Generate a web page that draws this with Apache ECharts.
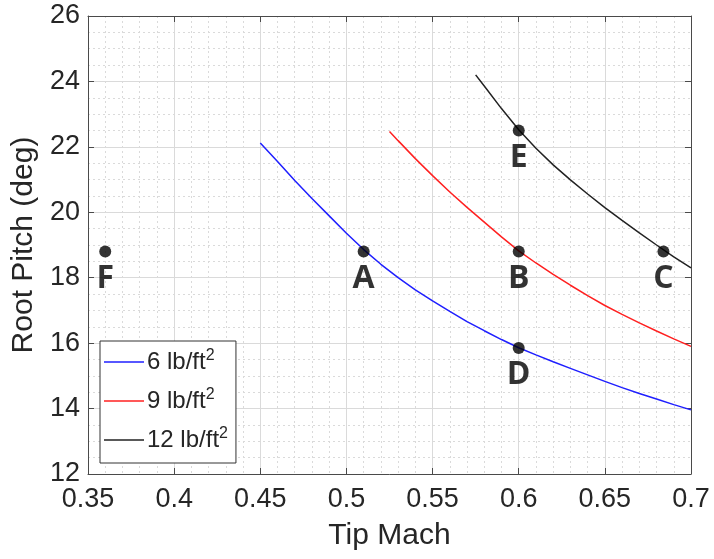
<!DOCTYPE html>
<html>
<head>
<meta charset="utf-8">
<script src="https://cdn.jsdelivr.net/npm/echarts@6/dist/echarts.min.js"></script>
<style>
  html, body { margin: 0; padding: 0; background: #fff; }
  #chart { width: 714px; height: 559px; }
</style>
</head>
<body>
<div id="chart"></div>
<script>
// ---- data ----
const seriesNames = ['6', '9', '12'];
const seriesColors = ['#1f1fff', '#ff2020', '#222222'];

const mach6  = [0.45, 0.46, 0.47, 0.48, 0.49, 0.50, 0.51, 0.52, 0.53, 0.54, 0.55, 0.56, 0.57, 0.58, 0.59, 0.60, 0.61, 0.62, 0.63, 0.64, 0.65, 0.66, 0.67, 0.68, 0.69, 0.70];
const pitch6 = [22.12, 21.55, 20.97, 20.42, 19.89, 19.36, 18.86, 18.41, 18.00, 17.63, 17.29, 16.97, 16.66, 16.38, 16.11, 15.86, 15.64, 15.43, 15.23, 15.03, 14.83, 14.64, 14.46, 14.29, 14.12, 13.96];

const mach9  = [0.525, 0.53, 0.54, 0.55, 0.56, 0.57, 0.58, 0.59, 0.60, 0.61, 0.62, 0.63, 0.64, 0.65, 0.66, 0.67, 0.68, 0.69, 0.70];
const pitch9 = [22.47, 22.19, 21.64, 21.12, 20.62, 20.15, 19.70, 19.25, 18.82, 18.45, 18.10, 17.77, 17.45, 17.15, 16.88, 16.62, 16.37, 16.13, 15.90];

const mach12  = [0.575, 0.58, 0.59, 0.60, 0.61, 0.62, 0.63, 0.64, 0.65, 0.66, 0.67, 0.68, 0.69, 0.70];
const pitch12 = [24.20, 23.86, 23.17, 22.52, 21.96, 21.45, 20.99, 20.56, 20.14, 19.75, 19.37, 19.00, 18.64, 18.30];

const pointNames = ['F', 'A', 'B', 'C', 'D', 'E'];
const pointMach  = [0.36, 0.51, 0.60, 0.684, 0.60, 0.60];
const pointPitch = [18.8, 18.8, 18.8, 18.8, 15.85, 22.5];

const xMin = 0.35, xMax = 0.70, xStep = 0.05;
const yMin = 12, yMax = 26, yStep = 2;

// ---- chart ----
const textColor = '#262626';
const axisColor = '#4a4a4a';
const gridColor = '#dadada';
const font = 'Liberation Sans, Arial, sans-serif';

function zip(a, b) { return a.map((v, i) => [v, b[i]]); }

const lineData = [zip(mach6, pitch6), zip(mach9, pitch9), zip(mach12, pitch12)];

const lineSeries = lineData.map((d, i) => ({
  name: seriesNames[i],
  type: 'line',
  data: d,
  xAxisIndex: 0,
  yAxisIndex: 0,
  symbol: 'none',
  smooth: false,
  lineStyle: { color: seriesColors[i], width: 1.5 },
  itemStyle: { color: seriesColors[i] },
  z: 3
}));

const pointSeries = {
  name: 'points',
  type: 'scatter',
  xAxisIndex: 0,
  yAxisIndex: 0,
  symbolSize: 12,
  itemStyle: { color: '#000' },
  data: pointNames.map((n, i) => ({ name: n, value: [pointMach[i], pointPitch[i]] })),
  label: {
    show: true,
    position: 'bottom',
    distance: 5,
    formatter: p => p.name,
    fontFamily: 'Open Sans, sans-serif',
    fontWeight: 'bold',
    fontSize: 32,
    color: '#000'
  },
  z: 5
};

const baseX = { type: 'value', min: xMin, max: xMax, interval: xStep };
const baseY = { type: 'value', min: yMin, max: yMax, interval: yStep };

const option = {
  backgroundColor: '#fff',
  animation: false,
  grid: { left: 88, right: 23, top: 16, bottom: 85, containLabel: false },
  legend: {
    data: seriesNames.map((n, i) => ({ name: n, icon: 'rect', itemStyle: { color: seriesColors[i] } })),
    orient: 'vertical',
    left: 100,
    top: 341,
    padding: [7, 8, 11, 4],
    itemGap: 13,
    itemWidth: 40,
    itemHeight: 1.5,
    borderColor: '#333',
    borderWidth: 1,
    backgroundColor: '#fff',
    formatter: n => '{a|' + n + ' lb/ft}{s|2}',
    textStyle: {
      color: textColor,
      padding: [0, 0, 0, -2],
      rich: {
        a: { fontFamily: font, fontSize: 24, lineHeight: 28, color: textColor },
        s: { fontFamily: font, fontSize: 16, lineHeight: 16, verticalAlign: 'top', color: textColor }
      }
    }
  },
  xAxis: [
    Object.assign({}, baseX, {
      position: 'bottom',
      name: 'Tip Mach',
      nameLocation: 'middle',
      nameGap: 47,
      nameTextStyle: { fontFamily: font, fontSize: 30, color: textColor },
      axisLine: { show: true, onZero: false, lineStyle: { color: axisColor, width: 1 } },
      axisTick: { show: true, inside: true, length: 6, lineStyle: { color: axisColor } },
      axisLabel: { show: true, margin: 12, fontFamily: font, fontSize: 27, color: textColor,
        formatter: v => String(Math.round(v * 100) / 100) },
      splitLine: { show: true, lineStyle: { color: gridColor, width: 1 } },
      minorTick: { show: false, splitNumber: 5 },
      minorSplitLine: { show: true, lineStyle: { color: gridColor, width: 1, type: [2, 3] } }
    }),
    Object.assign({}, baseX, {
      position: 'top',
      axisLine: { show: true, onZero: false, lineStyle: { color: axisColor, width: 1 } },
      axisTick: { show: true, inside: true, length: 6, lineStyle: { color: axisColor } },
      axisLabel: { show: false },
      splitLine: { show: false }
    })
  ],
  yAxis: [
    Object.assign({}, baseY, {
      position: 'left',
      name: 'Root Pitch (deg)',
      nameLocation: 'middle',
      nameGap: 45,
      nameTextStyle: { fontFamily: font, fontSize: 30, color: textColor },
      axisLine: { show: true, onZero: false, lineStyle: { color: axisColor, width: 1 } },
      axisTick: { show: true, inside: true, length: 6, lineStyle: { color: axisColor } },
      axisLabel: { show: true, margin: 8, fontFamily: font, fontSize: 27, color: textColor },
      splitLine: { show: true, lineStyle: { color: gridColor, width: 1 } },
      minorTick: { show: false, splitNumber: 4 },
      minorSplitLine: { show: true, lineStyle: { color: gridColor, width: 1, type: [2, 3] } }
    }),
    Object.assign({}, baseY, {
      position: 'right',
      axisLine: { show: true, onZero: false, lineStyle: { color: axisColor, width: 1 } },
      axisTick: { show: true, inside: true, length: 6, lineStyle: { color: axisColor } },
      axisLabel: { show: false },
      splitLine: { show: false }
    })
  ],
  series: lineSeries.concat([pointSeries])
};

const chart = echarts.init(document.getElementById('chart'), null, { renderer: 'canvas' });
chart.setOption(option);
</script>
</body>
</html>
